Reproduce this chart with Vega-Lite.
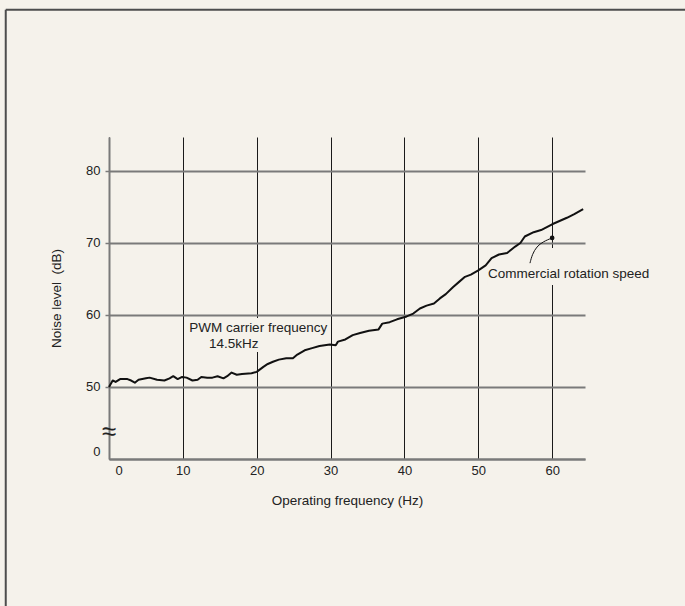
{
  "$schema": "https://vega.github.io/schema/vega-lite/v6.json",
  "width": 476,
  "height": 322,
  "autosize": {"type": "none"},
  "padding": {"left": 109, "top": 137, "right": 100, "bottom": 147},
  "background": "#f5f2eb",
  "config": {
    "view": {"stroke": null},
    "font": "Liberation Sans",
    "axis": {
      "labelFont": "Liberation Sans",
      "titleFont": "Liberation Sans",
      "labelColor": "#222222",
      "titleColor": "#222222",
      "labelFontSize": 13,
      "titleFontSize": 13.5,
      "titleFontWeight": "normal",
      "domainColor": "#7a7a7a",
      "domainWidth": 2
    }
  },
  "data": {"values": [{}]},
  "datasets": {
    "noise": [
      {"f": 0.0, "db": 50.0}, {"f": 0.5, "db": 50.9}, {"f": 0.9, "db": 50.7}, {"f": 1.5, "db": 51.1},
      {"f": 2.5, "db": 51.1}, {"f": 3.0, "db": 50.9}, {"f": 3.5, "db": 50.6}, {"f": 4.0, "db": 51.0},
      {"f": 5.0, "db": 51.2}, {"f": 5.5, "db": 51.3}, {"f": 6.5, "db": 51.0}, {"f": 7.5, "db": 50.9},
      {"f": 8.2, "db": 51.2}, {"f": 8.7, "db": 51.5}, {"f": 9.3, "db": 51.1}, {"f": 9.9, "db": 51.4},
      {"f": 10.5, "db": 51.3}, {"f": 11.3, "db": 50.9}, {"f": 12.0, "db": 51.0}, {"f": 12.5, "db": 51.4},
      {"f": 13.3, "db": 51.3}, {"f": 14.0, "db": 51.3}, {"f": 14.7, "db": 51.5}, {"f": 15.5, "db": 51.2},
      {"f": 16.0, "db": 51.5}, {"f": 16.6, "db": 52.0}, {"f": 17.3, "db": 51.7}, {"f": 18.0, "db": 51.8},
      {"f": 19.3, "db": 51.9}, {"f": 20.0, "db": 52.1}, {"f": 20.9, "db": 52.8}, {"f": 21.5, "db": 53.2},
      {"f": 22.2, "db": 53.5}, {"f": 23.0, "db": 53.8}, {"f": 24.0, "db": 54.0}, {"f": 24.9, "db": 54.0},
      {"f": 25.5, "db": 54.5}, {"f": 26.5, "db": 55.1}, {"f": 27.5, "db": 55.4}, {"f": 28.5, "db": 55.7},
      {"f": 29.9, "db": 55.9}, {"f": 30.7, "db": 55.8}, {"f": 31.0, "db": 56.3}, {"f": 32.0, "db": 56.6},
      {"f": 33.0, "db": 57.2}, {"f": 34.0, "db": 57.5}, {"f": 35.2, "db": 57.8}, {"f": 36.5, "db": 58.0},
      {"f": 37.0, "db": 58.8}, {"f": 38.0, "db": 59.0}, {"f": 39.0, "db": 59.4}, {"f": 40.3, "db": 59.8},
      {"f": 41.2, "db": 60.2}, {"f": 42.1, "db": 60.9}, {"f": 43.0, "db": 61.3}, {"f": 44.0, "db": 61.6},
      {"f": 44.8, "db": 62.3}, {"f": 45.6, "db": 62.9}, {"f": 46.6, "db": 63.9}, {"f": 47.4, "db": 64.6},
      {"f": 48.2, "db": 65.3}, {"f": 49.0, "db": 65.6}, {"f": 50.0, "db": 66.2}, {"f": 51.0, "db": 66.9},
      {"f": 51.8, "db": 67.9}, {"f": 52.8, "db": 68.4}, {"f": 53.9, "db": 68.6}, {"f": 55.0, "db": 69.5},
      {"f": 55.7, "db": 70.0}, {"f": 56.3, "db": 70.9}, {"f": 57.5, "db": 71.5}, {"f": 58.5, "db": 71.8},
      {"f": 60.0, "db": 72.6}, {"f": 62.0, "db": 73.5}, {"f": 63.0, "db": 74.0}, {"f": 64.2, "db": 74.7}
    ],
    "leader": [
      {"f": 60.0, "db": 70.7}, {"f": 58.8, "db": 70.2}, {"f": 57.9, "db": 69.5}, {"f": 57.3, "db": 68.4}, {"f": 57.0, "db": 67.2}
    ]
  },
  "layer": [
    {
      "mark": {"type": "rule", "color": "#4d4d4d", "strokeWidth": 2},
      "encoding": {
        "x": {"datum": -13.98, "type": "quantitative"},
        "y": {"datum": 102.4, "type": "quantitative"},
        "y2": {"datum": 19.0}
      }
    },
    {
      "mark": {"type": "rule", "color": "#4d4d4d", "strokeWidth": 2},
      "encoding": {
        "x": {"datum": -13.98, "type": "quantitative"},
        "x2": {"datum": 80},
        "y": {"datum": 102.4, "type": "quantitative"}
      }
    },
    {
      "mark": {"type": "rect", "fill": "#f5f2eb"},
      "encoding": {
        "x": {"datum": 10.5, "type": "quantitative"},
        "x2": {"datum": 29.8},
        "y": {"datum": 54.86, "type": "quantitative"},
        "y2": {"datum": 59.58}
      }
    },
    {
      "mark": {"type": "rect", "fill": "#f5f2eb"},
      "encoding": {
        "x": {"datum": 51.2, "type": "quantitative"},
        "x2": {"datum": 64.45},
        "y": {"datum": 64.17, "type": "quantitative"},
        "y2": {"datum": 69.3}
      }
    },
    {
      "data": {"name": "noise"},
      "mark": {"type": "line", "color": "#111111", "strokeWidth": 2, "strokeJoin": "round"},
      "encoding": {
        "x": {
          "field": "f",
          "type": "quantitative",
          "scale": {"domain": [0, 64.45], "nice": false, "zero": false},
          "axis": {
            "title": "Operating frequency (Hz)",
            "values": [0, 10, 20, 30, 40, 50, 60],
            "grid": true,
            "gridColor": "#1a1a1a",
            "gridWidth": 1,
            "ticks": false,
            "tickSize": 0,
            "labelPadding": 5,
            "labelOffset": {"condition": {"test": "datum.value == 0", "value": 6}, "value": 0},
            "titlePadding": 16
          }
        },
        "y": {
          "field": "db",
          "type": "quantitative",
          "scale": {"domain": [40, 84.72], "nice": false, "zero": false},
          "axis": {
            "title": "Noise level\u00a0 (dB)",
            "values": [40, 50, 60, 70, 80],
            "labelExpr": "datum.value == 40 ? '0' : datum.label",
            "grid": true,
            "gridColor": "#7a7a7a",
            "gridWidth": 2,
            "tickColor": "#7a7a7a",
            "tickWidth": 1.5,
            "tickSize": 4,
            "tickOpacity": {"condition": {"test": "datum.value == 40", "value": 0}, "value": 1},
            "labelOffset": {"condition": {"test": "datum.value == 40", "value": -8}, "value": 0},
            "labelPadding": 5,
            "titlePadding": 22
          }
        }
      }
    },
    {
      "data": {"name": "leader"},
      "mark": {"type": "line", "color": "#111111", "strokeWidth": 1, "interpolate": "basis"},
      "encoding": {
        "x": {"field": "f", "type": "quantitative"},
        "y": {"field": "db", "type": "quantitative"}
      }
    },
    {
      "mark": {"type": "point", "filled": true, "color": "#111111", "size": 22, "opacity": 1},
      "encoding": {
        "x": {"datum": 60, "type": "quantitative"},
        "y": {"datum": 70.7, "type": "quantitative"}
      }
    },
    {
      "mark": {"type": "text", "align": "left", "baseline": "middle", "fontSize": 13.5, "color": "#222222"},
      "encoding": {
        "x": {"datum": 51.3, "type": "quantitative"},
        "y": {"datum": 65.65, "type": "quantitative"},
        "text": {"value": "Commercial rotation speed"}
      }
    },
    {
      "mark": {"type": "text", "align": "left", "baseline": "middle", "fontSize": 13.5, "color": "#222222"},
      "encoding": {
        "x": {"datum": 10.85, "type": "quantitative"},
        "y": {"datum": 58.15, "type": "quantitative"},
        "text": {"value": "PWM carrier frequency"}
      }
    },
    {
      "mark": {"type": "text", "align": "left", "baseline": "middle", "fontSize": 13.5, "color": "#222222"},
      "encoding": {
        "x": {"datum": 13.55, "type": "quantitative"},
        "y": {"datum": 55.93, "type": "quantitative"},
        "text": {"value": "14.5kHz"}
      }
    },
    {
      "mark": {"type": "text", "align": "center", "baseline": "middle", "fontSize": 26, "color": "#222222"},
      "encoding": {
        "x": {"datum": 0, "type": "quantitative"},
        "y": {"datum": 43.75, "type": "quantitative"},
        "text": {"value": "≈"}
      }
    }
  ]
}
